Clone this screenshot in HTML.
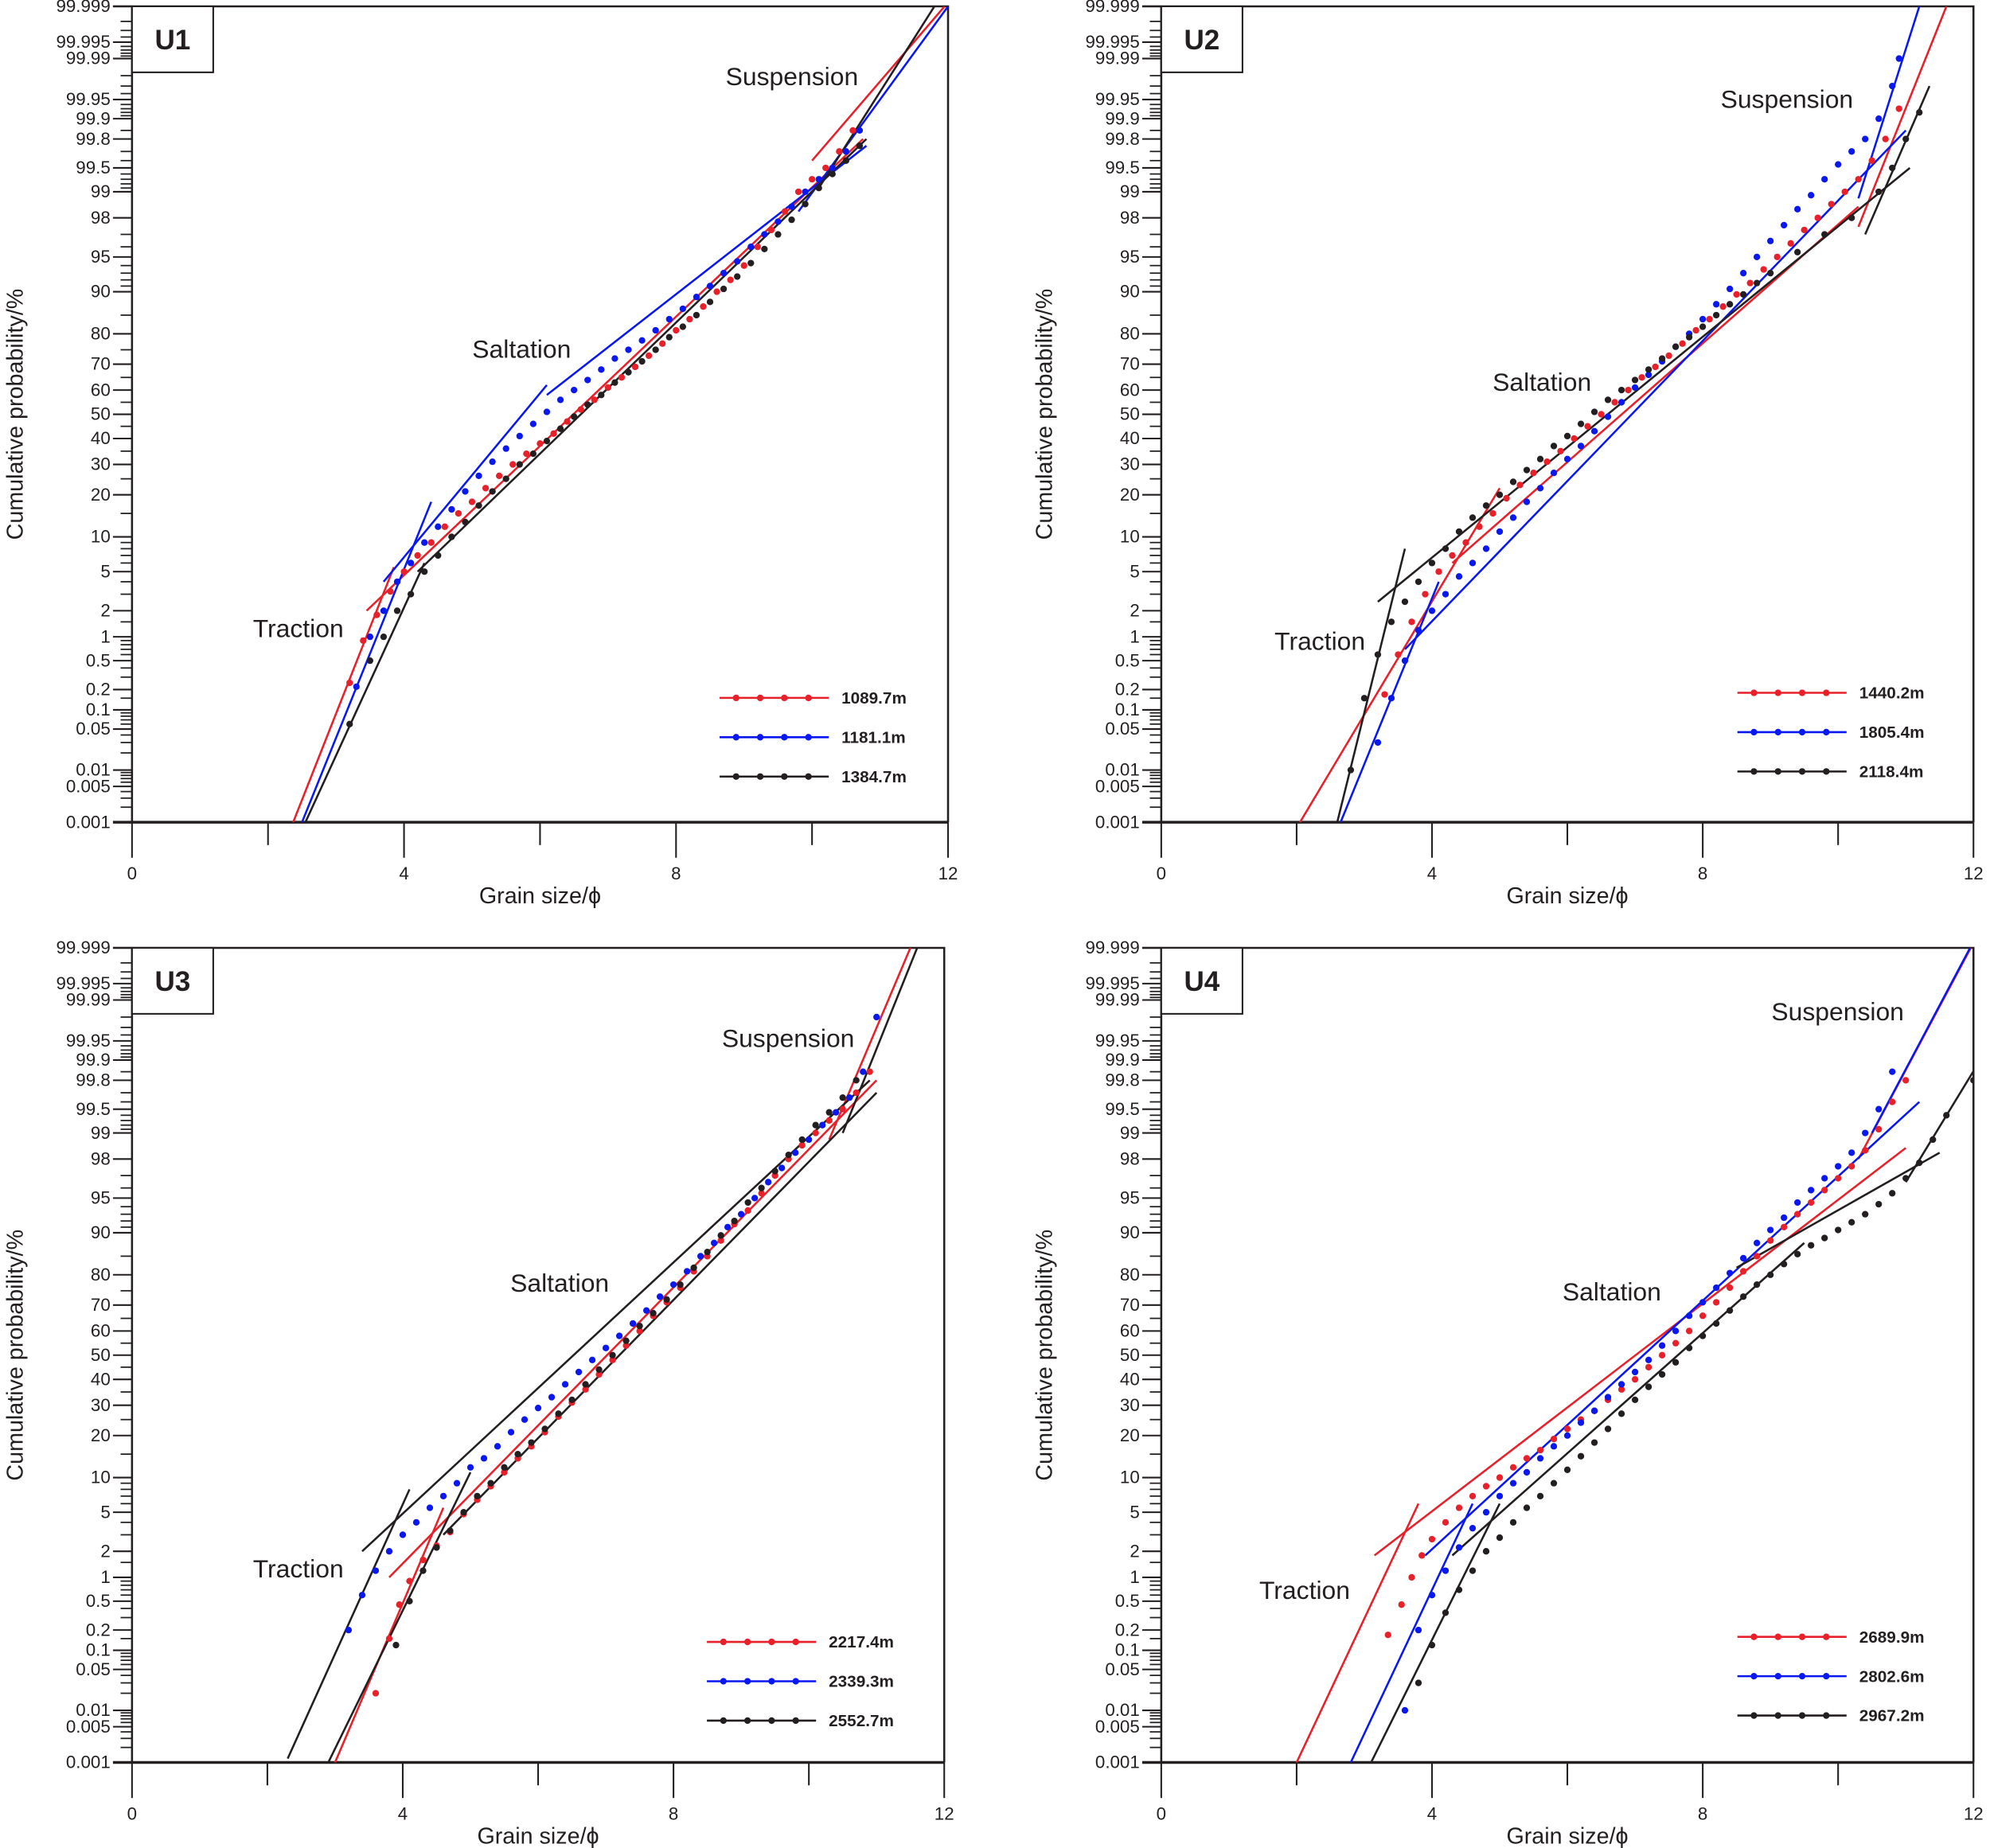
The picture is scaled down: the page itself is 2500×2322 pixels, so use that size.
<!DOCTYPE html>
<html><head><meta charset="utf-8"><style>
html,body{margin:0;padding:0;background:#fff}
svg{display:block}
text{font-family:"Liberation Sans",sans-serif;fill:#231f20}
</style></head><body>
<svg id="chart" xmlns="http://www.w3.org/2000/svg" width="2500" height="2322" viewBox="0 0 1568 1456.4"></svg>
<script>
// ---- data (phi, cumulative %) ----
const u1Red=[[3.2,0.25],[3.4,0.9],[3.6,1.8],[3.8,3.2],[4.0,5],[4.2,7],[4.4,9],[4.6,12],[4.8,15],[5.0,18],[5.2,22],[5.4,26],[5.6,30],[5.8,34],[6.0,38],[6.2,42],[6.4,47],[6.6,52],[6.8,56],[7.0,61],[7.2,65],[7.4,69],[7.6,73],[7.8,77],[8.0,81],[8.2,84],[8.4,87],[8.6,90],[8.8,92],[9.0,94],[9.2,96],[9.4,97.3],[9.6,98.3],[9.8,99],[10.0,99.3],[10.2,99.5],[10.4,99.7],[10.6,99.85]];
const u1Blue=[[3.3,0.22],[3.5,1],[3.7,2],[3.9,4],[4.1,6],[4.3,9],[4.5,12],[4.7,16],[4.9,21],[5.1,26],[5.3,31],[5.5,36],[5.7,41],[5.9,46],[6.1,51],[6.3,56],[6.5,60],[6.7,64],[6.9,68],[7.1,72],[7.3,75],[7.5,78],[7.7,81],[7.9,84],[8.1,86.5],[8.3,89],[8.5,91],[8.7,93],[8.9,94.5],[9.1,96],[9.3,97],[9.5,97.8],[9.7,98.5],[9.9,99],[10.1,99.3],[10.3,99.5],[10.5,99.7],[10.7,99.85]];
const u1Black=[[3.2,0.06],[3.5,0.5],[3.7,1],[3.9,2],[4.1,3],[4.3,5],[4.5,7],[4.7,10],[4.9,13],[5.1,17],[5.3,21],[5.5,25],[5.7,30],[5.9,34],[6.1,39],[6.3,44],[6.5,49],[6.7,54],[6.9,58],[7.1,63],[7.3,67],[7.5,71],[7.7,75],[7.9,79],[8.1,82],[8.3,85],[8.5,88],[8.7,90.5],[8.9,92.5],[9.1,94.3],[9.3,95.8],[9.5,97],[9.7,97.9],[9.9,98.6],[10.1,99.1],[10.3,99.4],[10.5,99.6],[10.7,99.75]];
const u2Red=[[3.3,0.17],[3.5,0.6],[3.7,1.5],[3.9,3],[4.1,5],[4.3,7],[4.5,9],[4.7,12],[4.9,15],[5.1,19],[5.3,23],[5.5,27],[5.7,31],[5.9,35],[6.1,40],[6.3,45],[6.5,50],[6.7,55],[6.9,60],[7.1,65],[7.3,69],[7.5,73],[7.7,77],[7.9,81],[8.1,84],[8.3,87],[8.5,89.5],[8.7,91.5],[8.9,93.5],[9.1,95],[9.3,96.3],[9.5,97.3],[9.7,98],[9.9,98.6],[10.1,99],[10.3,99.3],[10.5,99.6],[10.7,99.8],[10.9,99.93]];
const u2Blue=[[3.2,0.03],[3.4,0.15],[3.6,0.5],[3.8,1.2],[4.0,2],[4.2,3],[4.4,4.5],[4.6,6],[4.8,8],[5.0,11],[5.2,14],[5.4,18],[5.6,22],[5.8,27],[6.0,32],[6.2,37],[6.4,43],[6.6,49],[6.8,55],[7.0,61],[7.2,66],[7.4,71],[7.6,76],[7.8,80],[8.0,84],[8.2,87.5],[8.4,90.5],[8.6,93],[8.8,95],[9.0,96.5],[9.2,97.6],[9.4,98.4],[9.6,98.9],[9.8,99.3],[10.0,99.55],[10.2,99.7],[10.4,99.8],[10.6,99.9],[10.8,99.97],[10.9,99.99]];
const u2Black=[[2.8,0.01],[3.0,0.15],[3.2,0.6],[3.4,1.5],[3.6,2.5],[3.8,4],[4.0,6],[4.2,8],[4.4,11],[4.6,14],[4.8,17],[5.0,20],[5.2,24],[5.4,28],[5.6,32],[5.8,37],[6.0,41],[6.2,46],[6.4,51],[6.6,56],[6.8,60],[7.0,64],[7.2,68],[7.4,72],[7.6,76],[7.8,79],[8.0,82],[8.2,85],[8.4,87.5],[8.6,89.5],[8.8,91.5],[9.0,93],[9.4,95.5],[9.8,97],[10.2,98],[10.6,99],[10.8,99.5],[11.0,99.8],[11.2,99.92]];
const u3Red=[[3.6,0.02],[3.8,0.15],[3.95,0.45],[4.1,0.9],[4.3,1.6],[4.5,2.3],[4.7,3.2],[4.9,4.8],[5.1,6.5],[5.3,8.5],[5.5,11],[5.7,14],[5.9,17],[6.1,21],[6.3,26],[6.5,31],[6.7,36],[6.9,42],[7.1,48],[7.3,54],[7.5,60],[7.7,66],[7.9,71],[8.1,76],[8.3,81],[8.5,85],[8.7,88.5],[8.9,91.5],[9.1,93.5],[9.3,95.5],[9.5,97],[9.7,98],[9.9,98.6],[10.1,99],[10.3,99.3],[10.5,99.5],[10.7,99.7],[10.9,99.85]];
const u3Blue=[[3.2,0.2],[3.4,0.6],[3.6,1.2],[3.8,2],[4.0,3],[4.2,4],[4.4,5.5],[4.6,7],[4.8,9],[5.0,12],[5.2,14],[5.4,17],[5.6,21],[5.8,25],[6.0,29],[6.2,33],[6.4,38],[6.6,43],[6.8,48],[7.0,53],[7.2,58],[7.4,63],[7.6,68],[7.8,73],[8.0,77],[8.2,81],[8.4,85],[8.6,88],[8.8,91],[9.0,93],[9.2,95],[9.4,96.5],[9.6,97.5],[9.8,98.3],[10.0,98.8],[10.2,99.2],[10.4,99.45],[10.6,99.65],[10.8,99.85],[11.0,99.98]];
const u3Black=[[3.9,0.12],[4.1,0.5],[4.3,1.2],[4.5,2.2],[4.7,3.3],[4.9,5],[5.1,7],[5.3,9],[5.5,12],[5.7,15],[5.9,18],[6.1,22],[6.3,27],[6.5,32],[6.7,38],[6.9,44],[7.1,50],[7.3,56],[7.5,62],[7.7,67],[7.9,72],[8.1,77],[8.3,82],[8.5,86],[8.7,89.5],[8.9,92],[9.1,94.5],[9.3,96],[9.5,97.3],[9.7,98.2],[9.9,98.8],[10.1,99.2],[10.3,99.45],[10.5,99.65],[10.7,99.8]];
const u4Red=[[3.35,0.17],[3.55,0.45],[3.7,1],[3.85,1.8],[4.0,2.7],[4.2,4],[4.4,5.5],[4.6,7],[4.8,8.5],[5.0,10],[5.2,12],[5.4,14],[5.6,16],[5.8,19],[6.0,22],[6.2,25],[6.4,28],[6.6,32],[6.8,36],[7.0,40],[7.2,45],[7.4,50],[7.6,55],[7.8,60],[8.0,66],[8.2,71],[8.4,76],[8.6,81],[8.8,85],[9.0,88.5],[9.2,91],[9.4,93],[9.6,94.5],[9.8,95.8],[10.0,96.8],[10.2,97.6],[10.4,98.4],[10.6,99.1],[10.8,99.6],[11.0,99.8]];
const u4Blue=[[3.6,0.01],[3.8,0.2],[4.0,0.6],[4.2,1.2],[4.4,2.2],[4.6,3.5],[4.8,5],[5.0,7],[5.2,9],[5.4,11],[5.6,14],[5.8,17],[6.0,20],[6.2,24],[6.4,28],[6.6,33],[6.8,38],[7.0,43],[7.2,48],[7.4,54],[7.6,60],[7.8,66],[8.0,71],[8.2,76],[8.4,80.5],[8.6,84.5],[8.8,88],[9.0,90.5],[9.2,92.5],[9.4,94.5],[9.6,95.8],[9.8,96.8],[10.0,97.6],[10.2,98.3],[10.4,99],[10.6,99.5],[10.8,99.85]];
const u4Black=[[3.8,0.03],[4.0,0.12],[4.2,0.35],[4.4,0.7],[4.6,1.2],[4.8,2],[5.0,2.8],[5.2,4],[5.4,5.5],[5.6,7],[5.8,9],[6.0,11.5],[6.2,14.5],[6.4,18],[6.6,22],[6.8,27],[7.0,32],[7.2,37],[7.4,42],[7.6,47],[7.8,53],[8.0,58],[8.2,63],[8.4,68],[8.6,73],[8.8,77],[9.0,80],[9.2,83],[9.4,85.5],[9.6,87.5],[9.8,89],[10.0,90.5],[10.2,91.8],[10.4,93],[10.6,94.3],[10.8,95.5],[11.0,96.8],[11.2,97.8],[11.4,98.8],[11.6,99.4],[12.0,99.8]];
// fitted segments [phi1,p1,phi2,p2]
const u1Fits={red:[[2.37,0.001,3.85,5.5],[3.45,2,10.75,99.8],[10.0,99.6,11.95,99.999]],blue:[[2.5,0.001,4.4,18],[3.7,4,6.1,62],[6.1,58,10.8,99.75],[9.8,98.3,12,99.999]],black:[[2.55,0.001,4.3,6],[4.2,5,10.8,99.8],[10.1,99.1,11.8,99.999]]};
const u2Fits={red:[[2.05,0.001,5.0,22],[4.3,6,10.3,98.5],[10.3,97.5,11.6,99.999]],blue:[[2.65,0.001,4.1,4],[3.6,0.7,11.0,99.85],[10.3,98.8,11.2,99.999]],black:[[2.6,0.001,3.6,8],[3.2,2.5,11.06,99.5],[10.4,97,11.35,99.97]]};
const u3Fits={red:[[3.0,0.001,4.6,5.5],[3.8,1,11.0,99.8],[10.3,98.8,11.5,99.999]],blue:[],black:[[2.3,0.0012,4.1,8],[3.4,2,10.9,99.8],[2.9,0.001,5.0,11],[4.6,3,11.0,99.7],[10.5,99,11.6,99.999]]};
const u4Fits={red:[[2.0,0.001,3.8,6],[3.15,1.8,11.0,98.5],[10.3,98,11.96,99.999]],blue:[[2.8,0.001,4.6,6],[3.9,1.8,11.2,99.6],[10.5,99,11.95,99.999]],black:[[3.1,0.001,5.0,6],[4.3,1.8,9.5,88],[8.5,82,11.5,98.3],[11.0,96.5,12.1,99.9]]};
const yTickLabels=[99.999,99.995,99.99,99.95,99.9,99.8,99.5,99,98,95,90,80,70,60,50,40,30,20,10,5,2,1,0.5,0.2,0.1,0.05,0.01,0.005,0.001];
const yMinor=[99.998,99.997,99.996,99.994,99.993,99.992,99.991,99.98,99.97,99.96,99.94,99.93,99.92,99.91,99.85,99.7,99.6,99.4,99.3,99.2,99.1,97,96,94,93,92,91,85,75,65,55,45,35,25,15,9,8,7,6,4,3,1.5,0.9,0.8,0.7,0.6,0.4,0.3,0.15,0.09,0.08,0.07,0.06,0.04,0.03,0.02,0.009,0.008,0.007,0.006,0.004,0.003,0.002];
const xTickLabels=[0,4,8,12];
const xMinor=[2,6,10];

const C={red:'#e8202a',blue:'#0a18f0',black:'#231f20'};
const NS='http://www.w3.org/2000/svg';
const svg=document.getElementById('chart');
function el(tag,attrs,parent){const e=document.createElementNS(NS,tag);for(const k in attrs)e.setAttribute(k,attrs[k]);(parent||svg).appendChild(e);return e;}
function probit(p){const a=[-39.69683028665376,220.9460984245205,-275.9285104469687,138.3577518672690,-30.66479806614716,2.506628277459239],b=[-54.47609879822406,161.5858368580409,-155.6989798598866,66.80131188771972,-13.28068155288572],c=[-0.007784894002430293,-0.3223964580411365,-2.400758277161838,-2.549732539343734,4.374664141464968,2.938163982698783],d=[0.007784695709041462,0.3224671290700398,2.445134137142996,3.754408661907416];const pl=0.02425;let q,r;if(p<pl){q=Math.sqrt(-2*Math.log(p));return(((((c[0]*q+c[1])*q+c[2])*q+c[3])*q+c[4])*q+c[5])/((((d[0]*q+d[1])*q+d[2])*q+d[3])*q+1);}if(p>1-pl){q=Math.sqrt(-2*Math.log(1-p));return-(((((c[0]*q+c[1])*q+c[2])*q+c[3])*q+c[4])*q+c[5])/((((d[0]*q+d[1])*q+d[2])*q+d[3])*q+1);}q=p-0.5;r=q*q;return(((((a[0]*r+a[1])*r+a[2])*r+a[3])*r+a[4])*r+a[5])*q/(((((b[0]*r+b[1])*r+b[2])*r+b[3])*r+b[4])*r+1);}
const ZMAX=probit(0.99999);

const panels=[
 {id:'u1',label:'U1',x0:104,x1:747,y0:5,y1:648,series:[[u1Red,'red','1089.7m'],[u1Blue,'blue','1181.1m'],[u1Black,'black','1384.7m']],fits:u1Fits,susp:[624,67],salt:[411,282],trac:[235,502],leg:[567,550]},
 {id:'u2',label:'U2',x0:915,x1:1555,y0:5,y1:648,series:[[u2Red,'red','1440.2m'],[u2Blue,'blue','1805.4m'],[u2Black,'black','2118.4m']],fits:u2Fits,susp:[1408,85],salt:[1215,308],trac:[1040,512],leg:[1369,546]},
 {id:'u3',label:'U3',x0:104,x1:744,y0:747,y1:1389,series:[[u3Red,'red','2217.4m'],[u3Blue,'blue','2339.3m'],[u3Black,'black','2552.7m']],fits:u3Fits,susp:[621,825],salt:[441,1018],trac:[235,1243],leg:[557,1294]},
 {id:'u4',label:'U4',x0:915,x1:1555,y0:747,y1:1389,series:[[u4Red,'red','2689.9m'],[u4Blue,'blue','2802.6m'],[u4Black,'black','2967.2m']],fits:u4Fits,susp:[1448,804],salt:[1270,1025],trac:[1028,1260],leg:[1369,1290]}
];

panels.forEach(P=>{
 const g=el('g',{});
 
 
 const xs=v=>P.x0+(P.x1-P.x0)*v/12;
 const ys=p=>{const z=probit(p/100);return (P.y0+P.y1)/2 - z/ZMAX*(P.y1-P.y0)/2;};
 const cp=el('clipPath',{id:'clip-'+P.id},g);
 el('rect',{x:P.x0,y:P.y0,width:P.x1-P.x0,height:P.y1-P.y0},cp);
 const frame=el('path',{d:`M${P.x0-15},${P.y0}H${P.x1}V${P.y1}M${P.x0},${P.y0}V${P.y1}`,stroke:'#231f20','stroke-width':1.6,fill:'none'},g);
 
 
 const xa=el('line',{x1:P.x0-15,x2:P.x1,y1:P.y1,y2:P.y1,stroke:'#231f20','stroke-width':2.2},g);
 
 
 yTickLabels.forEach(v=>{
  const y=ys(v);
  el('line',{x1:P.x0-15,x2:P.x0,y1:y,y2:y,stroke:'#231f20','stroke-width':1.3},g);
  const t=el('text',{x:P.x0-17,y:y+4.5,'text-anchor':'end','font-size':14},g);
  t.textContent=String(v);
  
  
 });
 yMinor.forEach(v=>{const y=ys(v);el('line',{x1:P.x0-9,x2:P.x0,y1:y,y2:y,stroke:'#231f20','stroke-width':1.1},g);});
 xTickLabels.forEach(v=>{
  const x=xs(v);
  el('line',{x1:x,x2:x,y1:P.y1,y2:P.y1+28,stroke:'#231f20','stroke-width':1.3},g);
  const t=el('text',{x:x,y:P.y1+45,'text-anchor':'middle','font-size':14},g);
  t.textContent=String(v);
  
  
 });
 xMinor.forEach(v=>{const x=xs(v);el('line',{x1:x,x2:x,y1:P.y1,y2:P.y1+18,stroke:'#231f20','stroke-width':1.3},g);});
 const xt=el('text',{x:(P.x0+P.x1)/2,y:P.y1+64,'text-anchor':'middle','font-size':18},g);
 xt.textContent='Grain size/ϕ';
 
 
 const yt=el('text',{x:0,y:0,'text-anchor':'middle','font-size':18,transform:`translate(${P.x0-86},${(P.y0+P.y1)/2}) rotate(-90)`},g);
 yt.textContent='Cumulative probability/%';
 
 
 const lb=el('rect',{x:P.x0,y:P.y0,width:64,height:52,fill:'#fff',stroke:'#231f20','stroke-width':1.3},g);
 
 
 const lt=el('text',{x:P.x0+32,y:P.y0+34,'text-anchor':'middle','font-size':22,'font-weight':'bold'},g);
 lt.textContent=P.label;
 
 
 const fg=el('g',{'clip-path':`url(#clip-${P.id})`},g);
 ['red','blue','black'].forEach(k=>{
  P.fits[k].forEach(s=>{
   const ln=el('line',{x1:xs(s[0]),y1:ys(s[1]),x2:xs(s[2]),y2:ys(s[3]),stroke:C[k],'stroke-width':1.6},fg);
   
   
  });
 });
 P.series.forEach(([data,k,name])=>{
  data.forEach(([phi,p])=>{
   const c=el('circle',{cx:xs(phi),cy:ys(p),r:2.6,fill:C[k]},fg);
   
   
  });
 });
 [['Suspension',P.susp,'suspension-label'],['Saltation',P.salt,'saltation-label'],['Traction',P.trac,'traction-label']].forEach(([s,pos,n])=>{
  const t=el('text',{x:pos[0],y:pos[1],'text-anchor':'middle','font-size':20},g);
  t.textContent=s;
  
  
 });
 P.series.forEach(([data,k,name],i)=>{
  const y=P.leg[1]+i*31;
  const lg=el('g',{},g);
  
  
  el('line',{x1:P.leg[0],x2:P.leg[0]+86,y1:y,y2:y,stroke:C[k],'stroke-width':1.6},lg);
  for(let j=0;j<4;j++)el('circle',{cx:P.leg[0]+13+j*19,cy:y,r:2.6,fill:C[k]},lg);
  const t=el('text',{x:P.leg[0]+96,y:y+4.5,'font-size':13,'font-weight':'bold'},lg);
  t.textContent=name;
 });
});
</script>
</body></html>
